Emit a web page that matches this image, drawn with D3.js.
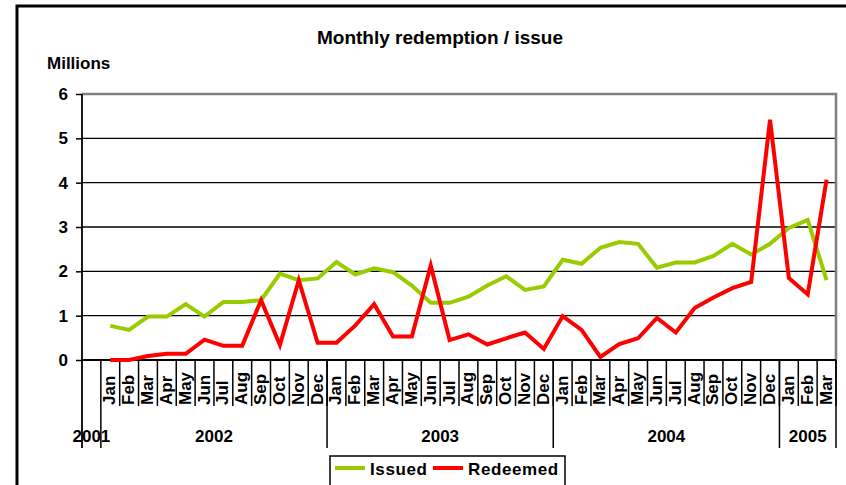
<!DOCTYPE html>
<html>
<head>
<meta charset="utf-8">
<script src="https://cdn.jsdelivr.net/npm/d3@7"></script>
<style>
  body { margin: 0; background: #fff; }
  text { font-family: Arial, "Liberation Sans", sans-serif; font-weight: bold; fill: #000; }
</style>
</head>
<body>
<div id="chart"></div>
<script>
// Data (millions)
var years = ["2001", "2002", "2003", "2004", "2005"];
var monthsPerYear = [0, 12, 12, 12, 3];   // 2001 holds one empty slot
var monthNames = ["Jan", "Feb", "Mar", "Apr", "May", "Jun", "Jul", "Aug", "Sep", "Oct", "Nov", "Dec"];
var issued = [0.77, 0.68, 0.98, 0.98, 1.26, 0.98, 1.31, 1.31, 1.35, 1.95, 1.8, 1.84,
              2.21, 1.93, 2.07, 1.98, 1.68, 1.29, 1.29, 1.43, 1.68, 1.89, 1.58, 1.66,
              2.26, 2.17, 2.53, 2.66, 2.62, 2.08, 2.2, 2.2, 2.35, 2.62, 2.38, 2.62,
              2.98, 3.16, 1.8];
var redeemed = [0, 0, 0.09, 0.14, 0.14, 0.46, 0.32, 0.32, 1.35, 0.34, 1.8, 0.39,
                0.39, 0.78, 1.26, 0.53, 0.53, 2.13, 0.45, 0.58, 0.35, 0.49, 0.62, 0.25,
                0.99, 0.68, 0.07, 0.36, 0.49, 0.95, 0.62, 1.17, 1.41, 1.62, 1.76, 5.42,
                1.85, 1.48, 4.07];
var yTicks = [0, 1, 2, 3, 4, 5, 6];

function drawChart() {
    var W = 846, H = 485;
    var plotLeft = 82, plotRight = 836, plotTop = 94, plotBottom = 360;

    // build category slots
    var slots = [{key: "2001-blank", month: "", year: "2001"}];
    years.forEach(function(yr, yi) {
        for (var m = 0; m < monthsPerYear[yi]; m++) {
            slots.push({key: yr + "-" + m, month: monthNames[m], year: yr});
        }
    });

    var svg = d3.select("#chart").append("svg")
        .attr("width", W).attr("height", H);

    // outer chart frame
    svg.append("path")
        .attr("d", "M17," + (H + 5) + "V6H" + (W + 5))
        .attr("fill", "none").attr("stroke", "#000").attr("stroke-width", 3);

    var x = d3.scaleBand().domain(slots.map(function(d) { return d.key; }))
        .range([plotLeft, plotRight]).padding(0);
    var y = d3.scaleLinear().domain([0, 6]).range([plotBottom, plotTop]);

    // gridlines
    svg.append("g").selectAll("line")
        .data(yTicks.filter(function(t) { return t > 0 && t < 6; }))
        .enter().append("line")
        .attr("x1", plotLeft).attr("x2", plotRight)
        .attr("y1", function(d) { return y(d); }).attr("y2", function(d) { return y(d); })
        .attr("stroke", "#000").attr("stroke-width", 1.3);

    // plot area border (grey top and right)
    svg.append("path")
        .attr("d", "M" + plotLeft + "," + y(6) + "H" + plotRight + "V" + plotBottom)
        .attr("fill", "none").attr("stroke", "#808080").attr("stroke-width", 2.5);

    // y axis
    var yAxis = svg.append("g").attr("transform", "translate(" + plotLeft + ",0)")
        .call(d3.axisLeft(y).tickValues(yTicks).tickSize(6).tickPadding(8).tickFormat(d3.format("d")));
    yAxis.select(".domain").remove();
    yAxis.selectAll(".tick line").attr("stroke", "#000").attr("stroke-width", 1.5);
    yAxis.selectAll("text").style("font-size", "17px").attr("font-family", null);

    // axis lines
    svg.append("line").attr("x1", plotLeft).attr("x2", plotLeft).attr("y1", plotTop).attr("y2", 448)
        .attr("stroke", "#000").attr("stroke-width", 1.8);
    svg.append("line").attr("x1", plotLeft).attr("x2", plotRight).attr("y1", plotBottom).attr("y2", plotBottom)
        .attr("stroke", "#000").attr("stroke-width", 1.8);

    // month separators and labels
    var bw = x.bandwidth();
    svg.append("g").selectAll("line")
        .data(slots.slice(1))
        .enter().append("line")
        .attr("x1", function(d) { return x(d.key) + bw; })
        .attr("x2", function(d) { return x(d.key) + bw; })
        .attr("y1", plotBottom).attr("y2", 406)
        .attr("stroke", "#000").attr("stroke-width", 1.5);

    svg.append("g").selectAll("text")
        .data(slots.slice(1))
        .enter().append("text")
        .attr("transform", function(d) {
            return "translate(" + (x(d.key) + bw / 2 + 5) + ",405) rotate(-90)";
        })
        .style("font-size", "17px")
        .text(function(d) { return d.month; });

    // year separators and labels
    var yearInfo = years.map(function(yr) {
        var s = slots.filter(function(d) { return d.year === yr; });
        return {year: yr, x0: x(s[0].key), x1: x(s[s.length - 1].key) + bw};
    });
    svg.append("g").selectAll("line")
        .data(yearInfo)
        .enter().append("line")
        .attr("x1", function(d) { return d.x1; }).attr("x2", function(d) { return d.x1; })
        .attr("y1", plotBottom).attr("y2", 448)
        .attr("stroke", "#000").attr("stroke-width", 1.5);
    svg.append("g").selectAll("text")
        .data(yearInfo)
        .enter().append("text")
        .attr("x", function(d) { return (d.x0 + d.x1) / 2; })
        .attr("y", 442)
        .attr("text-anchor", "middle")
        .style("font-size", "17px")
        .text(function(d) { return d.year; });

    // lines
    var dataSlots = slots.slice(1);
    var line = d3.line()
        .x(function(d, i) { return x(dataSlots[i].key) + bw / 2; })
        .y(function(d) { return y(d); });

    svg.append("path").datum(issued)
        .attr("d", line).attr("fill", "none")
        .attr("stroke", "#99CC00").attr("stroke-width", 4);
    svg.append("path").datum(redeemed)
        .attr("d", line).attr("fill", "none")
        .attr("stroke", "#FF0000").attr("stroke-width", 4);

    // title and unit
    svg.append("text").attr("x", 440).attr("y", 44).attr("text-anchor", "middle")
        .style("font-size", "18px").attr("textLength", 246).attr("lengthAdjust", "spacingAndGlyphs")
        .text("Monthly redemption / issue");
    svg.append("text").attr("x", 47).attr("y", 69)
        .style("font-size", "17px")
        .text("Millions");

    // legend
    var lg = svg.append("g");
    lg.append("rect").attr("x", 330).attr("y", 456).attr("width", 235).attr("height", 32)
        .attr("fill", "#fff").attr("stroke", "#000").attr("stroke-width", 1.5);
    var legendItems = [
        {name: "Issued", color: "#99CC00", x: 335},
        {name: "Redeemed", color: "#FF0000", x: 433}
    ];
    legendItems.forEach(function(d) {
        lg.append("line").attr("x1", d.x).attr("x2", d.x + 30).attr("y1", 468).attr("y2", 468)
            .attr("stroke", d.color).attr("stroke-width", 4);
        lg.append("text").attr("x", d.x + 35).attr("y", 475)
            .style("font-size", "17px").style("letter-spacing", "0.6px")
            .text(d.name);
    });
}

window.onload = drawChart;
</script>
</body>
</html>
